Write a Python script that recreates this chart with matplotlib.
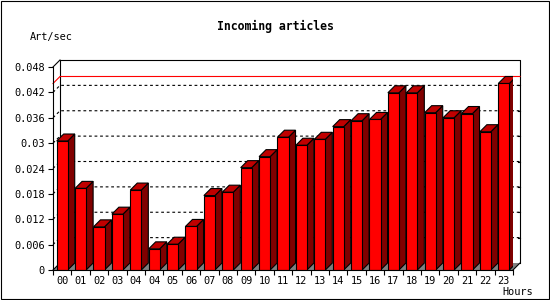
import matplotlib
matplotlib.use("Agg")
import matplotlib.pyplot as plt
from matplotlib.patches import Polygon, Rectangle

# Data
hours = ['00', '01', '02', '03', '04', '04', '05', '06', '07', '08', '09', '10',
         '11', '12', '13', '14', '15', '16', '17', '18', '19', '20', '21', '22', '23']
rates = [0.0305, 0.0193, 0.0102, 0.0132, 0.0189, 0.0050, 0.0061, 0.0103, 0.0176,
         0.0184, 0.0242, 0.0268, 0.0314, 0.0295, 0.0309, 0.0339, 0.0353, 0.0356,
         0.0419, 0.0419, 0.0372, 0.0360, 0.0370, 0.0327, 0.0441]
yticks = [0, 0.006, 0.012, 0.018, 0.024, 0.03, 0.036, 0.042, 0.048]
yticklabels = ['0', '0.006', '0.012', '0.018', '0.024', '0.03', '0.036', '0.042', '0.048']

W, H = 550, 300
fig = plt.figure(figsize=(W / 100, H / 100), dpi=100)
fig.patch.set_facecolor('white')

# front plane in pixels
left, right, top, bottom = 53, 513, 67, 270
ax = fig.add_axes([left / W, 1 - bottom / H, (right - left) / W, (bottom - top) / H])
ax.set_facecolor('none')
n = len(hours)
ymax = 0.048
ax.set_xlim(0, n)
ax.set_ylim(0, ymax)

# 3D depth (pixels -> data units)
depth = 7
dx = depth * n / (right - left)
dy = depth * ymax / (bottom - top)

mono = 'DejaVu Sans Mono'
lw = 0.8

# floor
ax.add_patch(Polygon([(0, 0), (n, 0), (n + dx, dy), (dx, dy)], closed=True,
                     facecolor='#808080', edgecolor='none', clip_on=False, zorder=1))

# back plane frame
ax.plot([dx, dx, n + dx, n + dx], [dy, ymax + dy, ymax + dy, dy], color='black',
        lw=lw, clip_on=False, zorder=2)
ax.plot([0, dx], [ymax, ymax + dy], color='black', lw=lw, clip_on=False, zorder=2)
ax.plot([0, dx], [0, dy], color='black', lw=lw, clip_on=False, zorder=2)
ax.plot([n, n + dx], [0, dy], color='black', lw=lw, clip_on=False, zorder=2)

# dotted grid on back wall and left wall
for yv in yticks[1:-1]:
    ax.plot([0, dx, n + dx], [yv, yv + dy, yv + dy], color='black', lw=lw,
            linestyle=(0, (2.5, 2.5)), clip_on=False, zorder=2)
    ax.plot([n + dx - 2 * n / (right - left), n + dx], [yv + dy, yv + dy],
            color='black', lw=lw, clip_on=False, zorder=2)

# max line
peak = max(rates)
ax.plot([0, dx, n + dx], [peak, peak + dy, peak + dy], color='#ff0000', lw=lw,
        clip_on=False, zorder=2)

# bars
bw = 0.6
for i, v in enumerate(rates):
    x0 = i + 0.2
    x1 = x0 + bw
    ax.add_patch(Polygon([(x1, 0), (x1 + dx, dy), (x1 + dx, v + dy), (x1, v)], closed=True,
                         facecolor='#800000', edgecolor='black', lw=lw, zorder=3))
    ax.add_patch(Polygon([(x0, v), (x1, v), (x1 + dx, v + dy), (x0 + dx, v + dy)], closed=True,
                         facecolor='#c00000', edgecolor='black', lw=lw, zorder=3))
    ax.add_patch(Rectangle((x0, 0), bw, v, facecolor='#ff0000', edgecolor='black',
                           lw=lw, zorder=4))

# axes
for s in ['top', 'right']:
    ax.spines[s].set_visible(False)
for s in ['left', 'bottom']:
    ax.spines[s].set_linewidth(lw)
    ax.spines[s].set_zorder(5)

ax.set_yticks(yticks)
ax.set_yticklabels(yticklabels, family=mono, fontsize=7.4)
ax.tick_params(axis='y', length=3.5, width=lw, pad=2.5)

ax.set_xticks(range(n + 1))
ax.set_xticklabels([])
ax.set_xticks([i + 0.5 for i in range(n)], minor=True)
ax.set_xticklabels(hours, minor=True, family=mono, fontsize=7.4)
ax.tick_params(axis='x', which='major', length=3.5, width=lw, direction='out')
ax.tick_params(axis='x', which='minor', length=0, pad=4)

# texts
fig.text(0.5, 1 - 26.7 / H, 'Incoming articles', ha='center', va='center',
         family=mono, fontsize=8.3, fontweight='bold')
fig.text(30 / W, 1 - 36.7 / H, 'Art/sec', ha='left', va='center', family=mono, fontsize=7.4)
fig.text(533 / W, 1 - 292 / H, 'Hours', ha='right', va='center', family=mono, fontsize=7.4)

# image border
fig.patches.append(Rectangle((0.5 / W, 1.5 / H), 548 / W, 297.5 / H, transform=fig.transFigure,
                             fill=False, edgecolor='black', lw=lw))

fig.savefig('out.png', dpi=100)
